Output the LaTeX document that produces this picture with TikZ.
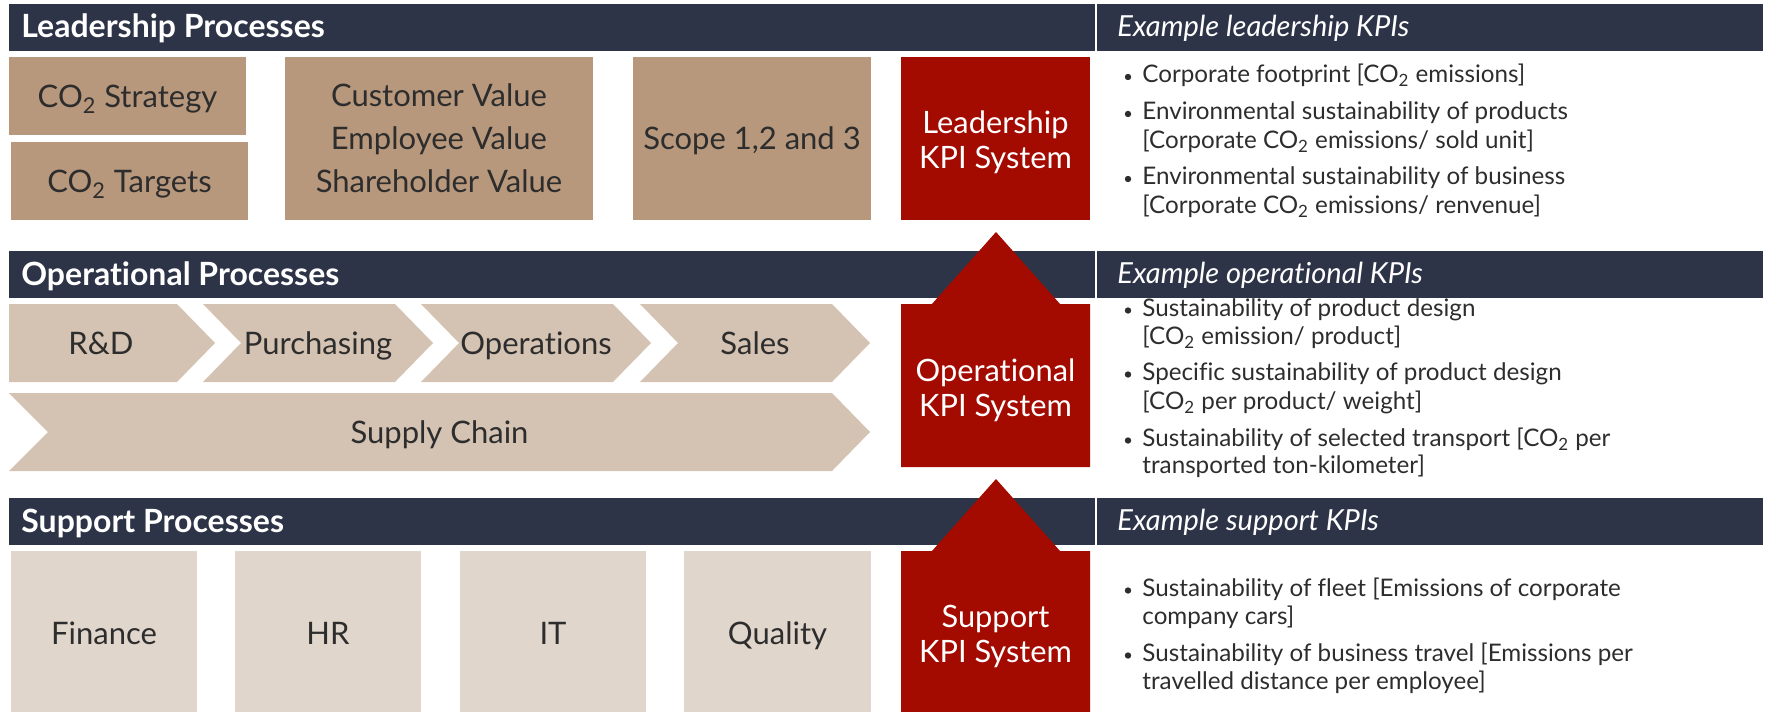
\documentclass[tikz,border=0pt]{standalone}
\usepackage{fontspec}
\setmainfont{Lato}[Ligatures=CommonOff]

\definecolor{headbar}{RGB}{46,52,72}
\definecolor{leadtan}{RGB}{184,152,124}
\definecolor{opstan}{RGB}{212,194,178}
\definecolor{supptan}{RGB}{225,214,204}
\definecolor{kpired}{RGB}{163,10,0}
\definecolor{txt}{RGB}{45,45,45}

\newcommand{\cotwo}{CO\textsubscript{2}}

\tikzset{
  headtext/.style={anchor=base west, text=white, inner sep=0pt, font=\fontsize{16}{19}\selectfont\bfseries},
  kpihead/.style={anchor=base west, text=white, inner sep=0pt, font=\fontsize{14.5}{17}\selectfont\itshape},
  boxtext/.style={text=txt, align=center, text depth=0pt, font=\fontsize{15.5}{21.5}\selectfont},
  kpitext/.style={text=white, align=center, text depth=0pt, font=\fontsize{15.4}{17.5}\selectfont},
  bullettext/.style={anchor=base west, text=txt, inner sep=0pt, font=\fontsize{12.1}{14}\selectfont},
  dot/.style={circle, fill=txt, inner sep=0pt, minimum size=3.2pt},
}

\begin{document}
\begin{tikzpicture}[x=0.5pt,y=-0.5pt]
\useasboundingbox (0,0) rectangle (1767,712);

% header bars
\fill[headbar] (9,4) rectangle (1095,51);
\fill[headbar] (1097,4) rectangle (1763,51);
\fill[headbar] (9,251) rectangle (1095,297.5);
\fill[headbar] (1097,251) rectangle (1763,297.5);
\fill[headbar] (9,498) rectangle (1095,544.5);
\fill[headbar] (1097,498) rectangle (1763,544.5);

\node[headtext] (leadhead) at (21,38) {Leadership Processes};
\node[headtext] (opshead) at (21,285) {Operational Processes};
\node[headtext] (supphead) at (21,532) {Support Processes};

\node[kpihead] (leadkpihead) at (1117,36.5) {Example leadership KPIs};
\node[kpihead] (opskpihead) at (1117,283.5) {Example operational KPIs};
\node[kpihead] (suppkpihead) at (1117,530.5) {Example support KPIs};

% leadership row
\fill[leadtan] (9,57) rectangle (246,135);
\fill[leadtan] (11,142) rectangle (248,220);
\fill[leadtan] (285,57) rectangle (593,220);
\fill[leadtan] (633,57) rectangle (871,220);
\node[boxtext] (strategy) at (127.5,96) {\cotwo{} Strategy};
\node[boxtext] (targets) at (129.5,181) {\cotwo{} Targets};
\node[boxtext] (values) at (439,138.5) {Customer Value\\Employee Value\\Shareholder Value};
\node[boxtext] (scope) at (752,138.5) {Scope 1,2 and 3};

% operational row
\fill[opstan] (9,304)--(177,304)--(215,343)--(177,382)--(9,382)--cycle;
\fill[opstan] (203,304)--(395,304)--(433,343)--(395,382)--(203,382)--(241,343)--cycle;
\fill[opstan] (421,304)--(613,304)--(651,343)--(613,382)--(421,382)--(459,343)--cycle;
\fill[opstan] (640,304)--(832,304)--(870,343)--(832,382)--(640,382)--(678,343)--cycle;
\fill[opstan] (9,393)--(832,393)--(870,432)--(832,471)--(9,471)--(48,432)--cycle;
\node[boxtext] (rnd) at (101,343) {R\&D};
\node[boxtext] (purchasing) at (318,343) {Purchasing};
\node[boxtext] (operations) at (536,343) {Operations};
\node[boxtext] (sales) at (755,343) {Sales};
\node[boxtext] (supply) at (439.5,432) {Supply Chain};

% support row
\fill[supptan] (11,551) rectangle (197,712);
\fill[supptan] (235,551) rectangle (421,712);
\fill[supptan] (460,551) rectangle (646,712);
\fill[supptan] (684,551) rectangle (871,712);
\node[boxtext] (finance) at (104,633) {Finance};
\node[boxtext] (hr) at (328,633) {HR};
\node[boxtext] (it) at (553,633) {IT};
\node[boxtext] (quality) at (777.5,633) {Quality};

% kpi systems, arrows pointing up
\fill[kpired] (901,57) rectangle (1090,220);
\fill[kpired] (901,304)--(932,304)--(996,232)--(1060,304)--(1090,304)--(1090,467)--(901,467)--cycle;
\fill[kpired] (901,551)--(932,551)--(996,479)--(1060,551)--(1090,551)--(1090,712)--(901,712)--cycle;
\node[kpitext] (leadkpi) at (995.5,140) {Leadership\\KPI System};
\node[kpitext] (opskpi) at (995.5,388) {Operational\\KPI System};
\node[kpitext] (suppkpi) at (995.5,634) {Support\\KPI System};

% leadership kpis
\node[dot] (ld1) at (1128,77) {};
\node[bullettext] (l1) at (1142,82.5) {Corporate footprint [\cotwo{} emissions]};
\node[dot] (ld2) at (1128,114) {};
\node[bullettext] (l2a) at (1142,119.5) {Environmental sustainability of products};
\node[bullettext] (l2b) at (1142,148) {[Corporate \cotwo{} emissions/ sold unit]};
\node[dot] (ld3) at (1128,179) {};
\node[bullettext] (l3a) at (1142,184.5) {Environmental sustainability of business};
\node[bullettext] (l3b) at (1142,213) {[Corporate \cotwo{} emissions/ renvenue]};

% operational kpis
\node[dot] (od1) at (1128,310.5) {};
\node[bullettext] (o1a) at (1142,316) {Sustainability of product design};
\node[bullettext] (o1b) at (1142,344) {[\cotwo{} emission/ product]};
\node[dot] (od2) at (1128,374.5) {};
\node[bullettext] (o2a) at (1142,380) {Specific sustainability of product design};
\node[bullettext] (o2b) at (1142,409) {[\cotwo{} per product/ weight]};
\node[dot] (od3) at (1128,440.5) {};
\node[bullettext] (o3a) at (1142,446) {Sustainability of selected transport [\cotwo{} per};
\node[bullettext] (o3b) at (1142,473) {transported ton-kilometer]};

% support kpis
\node[dot] (sd1) at (1128,590.5) {};
\node[bullettext] (s1a) at (1142,596) {Sustainability of fleet [Emissions of corporate};
\node[bullettext] (s1b) at (1142,624) {company cars]};
\node[dot] (sd2) at (1128,655.5) {};
\node[bullettext] (s2a) at (1142,661) {Sustainability of business travel [Emissions per};
\node[bullettext] (s2b) at (1142,689) {travelled distance per employee]};

\end{tikzpicture}
\end{document}
